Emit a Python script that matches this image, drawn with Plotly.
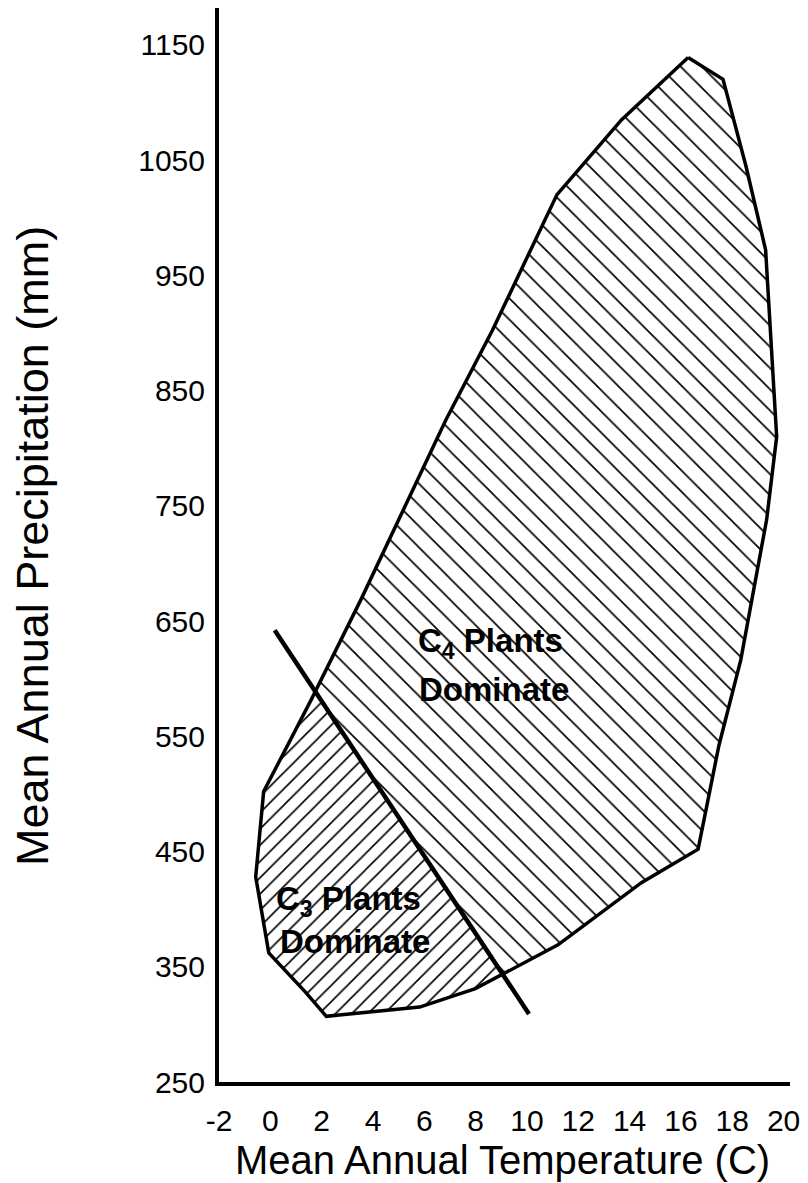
import plotly.graph_objects as go

# ---- data ----
# outer boundary of the grassland climate space (clockwise from the peak)
hull_temp = [16.28, 17.64, 18.53, 19.30, 19.73, 19.34, 18.33, 17.48, 16.67, 14.46,
             11.21, 9.15, 7.99, 5.82, 2.18, 1.37, -0.06, -0.57, -0.26, 1.60,
             3.54, 6.83, 8.65, 11.17, 13.69]
hull_precip = [1139, 1120, 1045, 972, 810, 738, 616, 542, 452, 423,
               369, 345, 331, 315, 307, 328, 362, 428, 502, 582,
               669, 824, 902, 1020, 1085]

# C3 / C4 dividing line
div_temp = [0.17, 10.08]
div_precip = [642, 309]

x_ticks = [-2, 0, 2, 4, 6, 8, 10, 12, 14, 16, 18, 20]
y_ticks = [250, 350, 450, 550, 650, 750, 850, 950, 1050, 1150]

x_title = "Mean Annual Temperature (C)"
y_title = "Mean Annual Precipitation (mm)"
c4_lines = ["<b>C<sub>4</sub> Plants</b>", "<b>Dominate</b>"]
c3_lines = ["<b>C<sub>3</sub> Plants</b>", "<b>Dominate</b>"]


def clip_half_plane(xs, ys, ax, ay, bx, by, keep_positive):
    """Sutherland-Hodgman clip of polygon against the line A-B."""
    dx, dy = bx - ax, by - ay

    def side(px, py):
        v = dx * (py - ay) - dy * (px - ax)
        return v if keep_positive else -v

    pts = list(zip(xs, ys))
    out = []
    n = len(pts)
    for i in range(n):
        p = pts[i]
        q = pts[(i + 1) % n]
        sp, sq = side(*p), side(*q)
        if sp >= 0:
            out.append(p)
        if (sp >= 0) != (sq >= 0):
            t = sp / (sp - sq)
            out.append((p[0] + t * (q[0] - p[0]), p[1] + t * (q[1] - p[1])))
    return [o[0] for o in out], [o[1] for o in out]


c3x, c3y = clip_half_plane(hull_temp, hull_precip, div_temp[0], div_precip[0],
                           div_temp[1], div_precip[1], False)
c4x, c4y = clip_half_plane(hull_temp, hull_precip, div_temp[0], div_precip[0],
                           div_temp[1], div_precip[1], True)

FONT = "Liberation Sans, Arial, sans-serif"

fig = go.Figure()

fig.add_trace(go.Scatter(
    x=c4x + [c4x[0]], y=c4y + [c4y[0]], mode="lines", fill="toself",
    line=dict(width=0, color="rgba(0,0,0,0)"),
    fillcolor="white",
    fillpattern=dict(shape="\\", size=15, solidity=0.11,
                     fgcolor="black", bgcolor="white", fillmode="replace"),
    hoverinfo="skip", showlegend=False))

fig.add_trace(go.Scatter(
    x=c3x + [c3x[0]], y=c3y + [c3y[0]], mode="lines", fill="toself",
    line=dict(width=0, color="rgba(0,0,0,0)"),
    fillcolor="white",
    fillpattern=dict(shape="/", size=11.5, solidity=0.14,
                     fgcolor="black", bgcolor="white", fillmode="replace"),
    hoverinfo="skip", showlegend=False))

# outer boundary
fig.add_trace(go.Scatter(
    x=hull_temp + [hull_temp[0]], y=hull_precip + [hull_precip[0]],
    mode="lines", line=dict(color="black", width=3.5),
    hoverinfo="skip", showlegend=False))

# dividing line
fig.add_trace(go.Scatter(
    x=div_temp, y=div_precip, mode="lines",
    line=dict(color="black", width=4.5),
    hoverinfo="skip", showlegend=False))

annos = []
label_font = dict(family=FONT, size=33, color="black")
annos.append(dict(x=8.57, y=631, xref="x", yref="y", text=c4_lines[0],
                  showarrow=False, font=label_font, xanchor="center", yanchor="middle"))
annos.append(dict(x=8.73, y=591, xref="x", yref="y", text=c4_lines[1],
                  showarrow=False, font=label_font, xanchor="center", yanchor="middle"))
annos.append(dict(x=3.03, y=407, xref="x", yref="y", text=c3_lines[0],
                  showarrow=False, font=label_font, xanchor="center", yanchor="middle"))
annos.append(dict(x=3.31, y=372, xref="x", yref="y", text=c3_lines[1],
                  showarrow=False, font=label_font, xanchor="center", yanchor="middle"))

annos.append(dict(x=0.5, y=0, xref="paper", yref="paper", text=x_title,
                  showarrow=False, font=dict(family=FONT, size=40, color="black"),
                  xanchor="center", yanchor="middle", xshift=-2, yshift=-78))
annos.append(dict(x=0, y=0.5, xref="paper", yref="paper", text=y_title,
                  showarrow=False, font=dict(family=FONT, size=45, color="black"),
                  xanchor="center", yanchor="middle",
                  textangle=-90, xshift=-187, yshift=-1))

fig.update_layout(
    width=808, height=1183,
    margin=dict(l=219, r=18, t=8, b=101),
    paper_bgcolor="white", plot_bgcolor="white",
    annotations=annos,
    xaxis=dict(range=[-2, 20.25], tickvals=x_ticks, ticktext=[str(v) for v in x_ticks],
               showgrid=False, zeroline=False, showline=True, linecolor="black",
               linewidth=4, ticks="", ticklabelstandoff=9,
               tickfont=dict(family=FONT, size=30, color="black")),
    yaxis=dict(range=[250, 1181.9], tickvals=y_ticks, ticktext=[str(v) for v in y_ticks],
               showgrid=False, zeroline=False, showline=True, linecolor="black",
               linewidth=4, ticks="", ticklabelstandoff=4,
               tickfont=dict(family=FONT, size=30, color="black")),
)

fig.write_html("out.html", config={"displayModeBar": False},
               post_script="document.body.style.margin='0';")
